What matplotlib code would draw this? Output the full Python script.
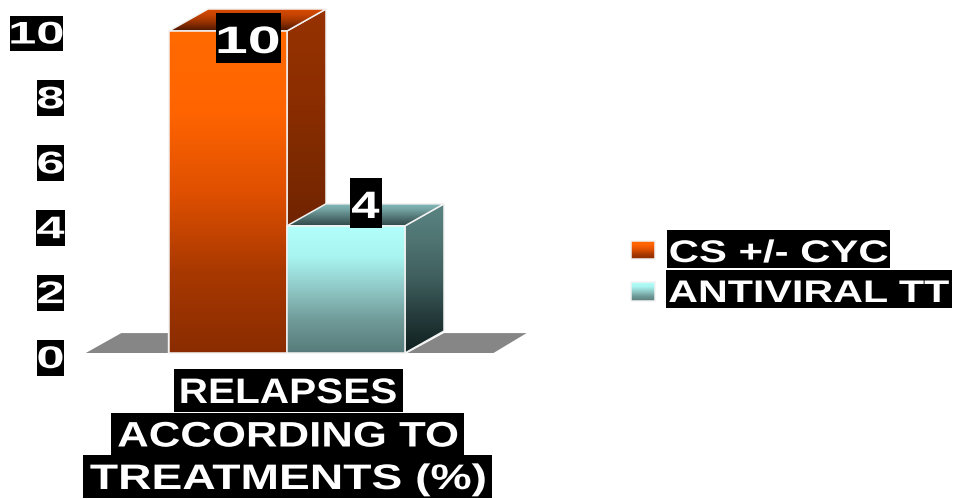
import numpy as np
import matplotlib
matplotlib.use("Agg")
import matplotlib.pyplot as plt
from matplotlib.colors import LinearSegmentedColormap
from matplotlib.patches import Polygon
from matplotlib.patheffects import AbstractPathEffect
from matplotlib.path import Path
from matplotlib.transforms import Affine2D, IdentityTransform

series_names = ["CS +/- CYC", "ANTIVIRAL TT"]
series_values = [10, 3.95]
value_labels = ["10", "4"]
y_ticks = [0, 2, 4, 6, 8, 10]
category_lines = ["RELAPSES", "ACCORDING TO", "TREATMENTS (%)"]

W, H = 957, 499
PX_X, PX_Y = 118.0, 32.2
X0, Y0 = 287.0, 353.0
DX, DY = 39 / PX_X, 22 / PX_Y

FRONT = [["#ff6a00", "#ff6400", "#e05000", "#a83800", "#8a2c00"],
         ["#b2fffb", "#a8f4f0", "#8fc8c6", "#6f9a98", "#577b7a"]]
SIDE = [["#973200", "#8c2e00", "#7a2800", "#681f00", "#5a1a00"],
        ["#5a8482", "#4f7472", "#3f5f5e", "#263c3c", "#0f1f1f"]]
TOP = [["#d84c00", "#c84400", "#a83800", "#7a2800", "#4a1600"],
       ["#84b8b8", "#74a2a2", "#5c8282", "#466464", "#2e4848"]]
FLOOR = "#868686"

fig = plt.figure(figsize=(W / 100, H / 100), dpi=100, facecolor="white")
ax = fig.add_axes([0, 0, 1, 1])


def dx(px):
    return (px - X0) / PX_X


def dy(px):
    return (Y0 - px) / PX_Y


class WideBox(AbstractPathEffect):
    """Widen the glyphs about their centre and put a black box behind them."""

    def __init__(self, sx, padx, above, below):
        super().__init__()
        self.sx, self.padx, self.above, self.below = sx, padx, above, below

    def draw_path(self, renderer, gc, tpath, affine, rgbFace=None):
        ext = tpath.get_extents()
        c = (ext.x0 + ext.x1) / 2
        aff = Affine2D().translate(-c, 0).scale(self.sx, 1).translate(c, 0) + affine
        bb = tpath.get_extents(aff)
        base = affine.transform((0, 0))[1]
        x0, x1 = bb.x0 - self.padx, bb.x1 + self.padx
        y0, y1 = base - self.below, base + self.above
        rect = Path([(x0, y0), (x1, y0), (x1, y1), (x0, y1), (x0, y0)], closed=True)
        renderer.draw_path(gc, rect, IdentityTransform(), (0, 0, 0, 1))
        renderer.draw_path(gc, tpath, aff, rgbFace)


def label(x, y, s, size, sx, padx, above, below):
    t = ax.text(x, y, s, ha="center", va="baseline", color="white", weight="bold",
                family="Liberation Sans", fontsize=size, zorder=20)
    t.set_path_effects([WideBox(sx, padx, above, below)])
    return t


def gradient(pts, colors, zorder):
    pts = np.array(pts)
    cmap = LinearSegmentedColormap.from_list("g", colors)
    grad = np.linspace(0, 1, 256).reshape(-1, 1)
    im = ax.imshow(grad, cmap=cmap, aspect="auto", zorder=zorder,
                   extent=(pts[:, 0].min(), pts[:, 0].max(), pts[:, 1].min(), pts[:, 1].max()),
                   origin="upper", interpolation="bilinear")
    poly = Polygon(pts, closed=True, facecolor="none", edgecolor="#f2f2f2", lw=1.1, zorder=zorder + 0.1)
    ax.add_patch(poly)
    im.set_clip_path(poly)


# floor on either side of the bars
left, right = -1.0, 1.0
fl = 0.695
fh = DY - 0.065
ax.add_patch(Polygon([(left - fl - 0.01, 0), (left - fl + DX - 0.04, fh), (left - 0.01, fh), (left - 0.01, 0)],
                     closed=True, fc=FLOOR, ec="none", zorder=1))
ax.add_patch(Polygon([(right + 0.02, 0), (right + DX, fh), (right + DX + 0.7, fh), (right + 0.75, 0)],
                     closed=True, fc=FLOOR, ec="none", zorder=1))

for i, v in enumerate(series_values):
    x0, x1 = i - 1, i
    z = 3 + i * 2
    gradient([(x1, 0), (x1 + DX, DY), (x1 + DX, v + DY), (x1, v)], SIDE[i], z)
    gradient([(x0, v), (x0 + DX, v + DY), (x1 + DX, v + DY), (x1, v)], TOP[i], z + 0.3)
    gradient([(x0, 0), (x1, 0), (x1, v), (x0, v)], FRONT[i], z + 0.6)

# value-axis labels
tick_step = 32.45 / PX_Y
for t in y_ticks:
    label(dx(64.5 - 14 * len(str(t))), dy(368) + t * tick_step, str(t), 22.5, 1.62, 1.0, 28, 7.5)

# data labels
label_px = [(248, 53), (365.5, 218)]
label_sx = [1.55, 1.33]
for (px, py), s, sx in zip(label_px, value_labels, label_sx):
    label(dx(px), dy(py), s, 27.5, sx, 2.5, 40, 10)

# category axis title
cat_base = [403, 446.5, 489]
cat_sx = [1.145, 1.235, 1.305]
for line, b, sx in zip(category_lines, cat_base, cat_sx):
    label(dx(288), dy(b), line, 25.5, sx, 7, 34, 8.5)

# legend
swatch_y = [250, 291.5]
legend_x = [778.5, 809]
legend_base = [262, 302]
legend_sx = [1.34, 1.32]
for k, name in enumerate(series_names):
    yc = dy(swatch_y[k])
    sx0, sx1 = dx(631), dx(655)
    sh = 9.2 / PX_Y
    gradient([(sx0, yc - sh), (sx1, yc - sh), (sx1, yc + sh), (sx0, yc + sh)], FRONT[k], 10)
    label(dx(legend_x[k]), dy(legend_base[k]), name, 22.5, legend_sx[k], 3, 32, 6)

ax.set_xlim(-X0 / PX_X, (W - X0) / PX_X)
ax.set_ylim((Y0 - H) / PX_Y, Y0 / PX_Y)
ax.set_axis_off()
fig.savefig("out.png", dpi=100, facecolor="white")
